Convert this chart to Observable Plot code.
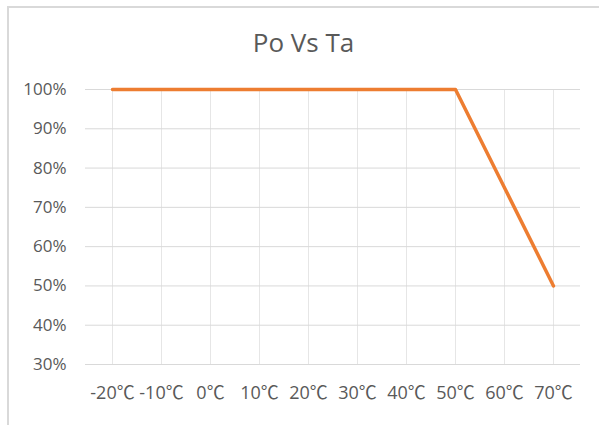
<!DOCTYPE html>
<html>
<head>
<meta charset="utf-8">
<script src="https://cdn.jsdelivr.net/npm/d3@7"></script>
<script src="https://cdn.jsdelivr.net/npm/@observablehq/plot@0.6"></script>
<style>
  html, body { margin: 0; padding: 0; background: #fff; }
  #wrap { position: relative; width: 599px; height: 425px; overflow: hidden; font-family: "Open Sans", "Noto Sans CJK SC", sans-serif; }
  #frame { position: absolute; left: 7px; top: 6px; right: -5px; bottom: -5px; border-left: 2px solid #d9d9d9; border-top: 2px solid #d9d9d9; }
  #title { position: absolute; left: 4px; width: 599px; top: 29px; text-align: center; font-size: 26px; line-height: 26px; color: #595959; }
  #chart { position: absolute; left: 0; top: 70px; }
</style>
</head>
<body>
<div id="wrap">
  <div id="frame"></div>
  <div id="title">Po Vs Ta</div>
  <div id="chart"></div>
</div>
<script>
const temps = ["-20℃", "-10℃", "0℃", "10℃", "20℃", "30℃", "40℃", "50℃", "60℃", "70℃"];
const power = [1.00, 1.00, 1.00, 1.00, 1.00, 1.00, 1.00, 1.00, 0.75, 0.50];
const yTicks = [0.3, 0.4, 0.5, 0.6, 0.7, 0.8, 0.9, 1.0];

const data = temps.map((t, i) => ({t, p: power[i]}));

const chart = Plot.plot({
  width: 599,
  height: 355,
  marginLeft: 85,
  marginRight: 19,
  marginTop: 19,
  marginBottom: 61,
  style: {fontFamily: '"Open Sans", "Noto Sans CJK SC", sans-serif', fontSize: "17px", color: "#595959", background: "transparent"},
  x: {type: "point", domain: temps, padding: 0.5, label: null},
  y: {domain: [0.3, 1.0], label: null},
  marks: [
    Plot.gridX(temps, {stroke: "#e6e6e6", strokeOpacity: 1, strokeWidth: 1}),
    Plot.gridY(yTicks, {stroke: "#d9d9d9", strokeOpacity: 1, strokeWidth: 1}),
    Plot.axisY(yTicks, {tickSize: 0, tickPadding: 19, tickFormat: d => Math.round(d * 100) + "%", label: null, fill: "#595959"}),
    Plot.axisX(temps, {tickSize: 0, tickPadding: 22, label: null, fill: "#595959", fontSize: 18}),
    Plot.line(data, {x: "t", y: "p", stroke: "#ED7D31", strokeWidth: 3.5, strokeLinecap: "round", strokeLinejoin: "round"})
  ]
});
document.getElementById("chart").appendChild(chart);
</script>
</body>
</html>
